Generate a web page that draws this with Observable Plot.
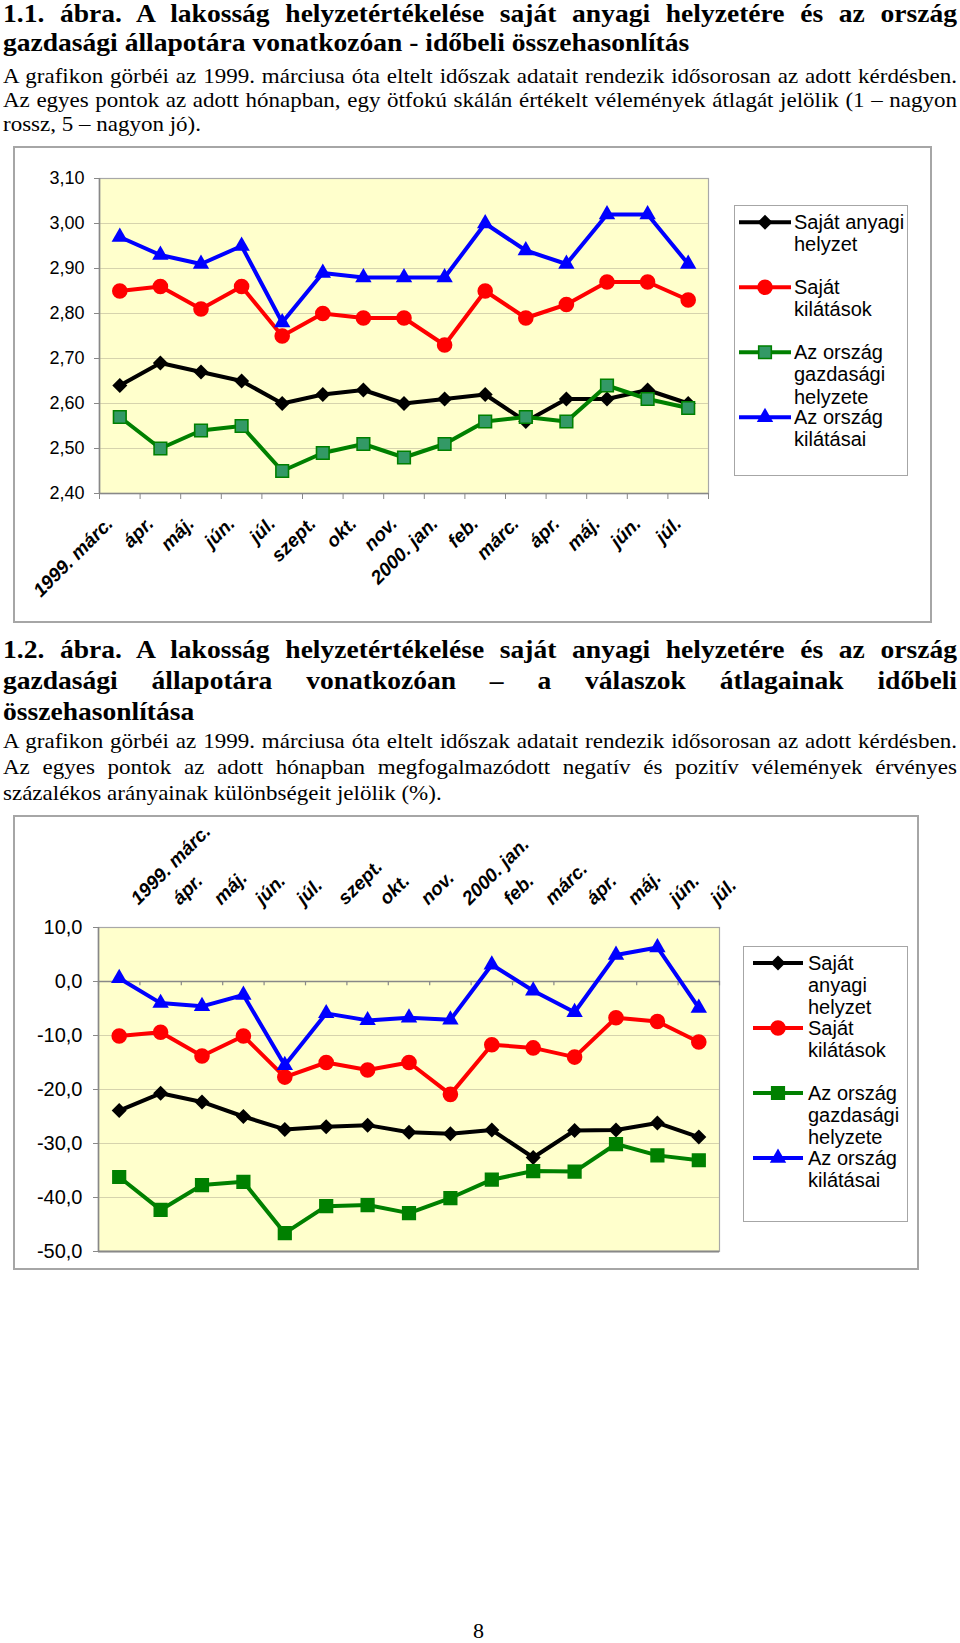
<!DOCTYPE html>
<html>
<head>
<meta charset="utf-8">
<script src="https://cdn.jsdelivr.net/npm/d3@7"></script>
<script src="https://cdn.jsdelivr.net/npm/@observablehq/plot@0.6"></script>
<style>
  body { margin: 0; background: #fff; }
  #page { position: relative; width: 960px; height: 1643px; overflow: hidden; background: #fff; }
  .ln { position: absolute; left: 3px; font-family: "Liberation Serif", "Times New Roman", serif; color: #000; white-space: nowrap; transform-origin: 0 0; }
  .ln.j { white-space: normal; text-align: justify; text-align-last: justify; }
  .title { font-weight: bold; font-size: 25.5px; line-height: 28px; }
  .body { font-size: 21px; line-height: 24px; }
  .frame { position: absolute; border: 2px solid #a6a6a6; box-sizing: border-box; pointer-events: none; }
  .chart { position: absolute; left: 0; }
  .legend { position: absolute; border: 1.5px solid #a6a6a6; box-sizing: border-box; background: #fff;
            font-family: "Liberation Sans", Arial, sans-serif; font-size: 20px; color: #000; }
  .entry { position: absolute; left: 0; }
  .entry svg { position: absolute; left: 0; top: 0; }
  .entry .lbl { position: absolute; white-space: nowrap; }
  .pnum { position: absolute; font-family: "Liberation Serif", "Times New Roman", serif; font-size: 22px; }
</style>
</head>
<body>
<div id="page"></div>
<script>
// ---------------- data ----------------
const categories = ["1999. márc.", "ápr.", "máj.", "jún.", "júl.", "szept.", "okt.", "nov.",
                    "2000. jan.", "feb.", "márc.", "ápr.", "máj.", "jún.", "júl."];
const seriesNames = ["Saját anyagi helyzet", "Saját kilátások", "Az ország gazdasági helyzete", "Az ország kilátásai"];
const seriesColors = ["#000000", "#ff0000", "#008000", "#0000ff"];

// 1.1. ábra – átlagok (1–5 skála)
const atlagSajatAnyagi  = [2.64, 2.69, 2.67, 2.65, 2.60, 2.62, 2.63, 2.60, 2.61, 2.62, 2.56, 2.61, 2.61, 2.63, 2.60];
const atlagSajatKilatas = [2.85, 2.86, 2.81, 2.86, 2.75, 2.80, 2.79, 2.79, 2.73, 2.85, 2.79, 2.82, 2.87, 2.87, 2.83];
const atlagOrszagHelyzet = [2.57, 2.50, 2.54, 2.55, 2.45, 2.49, 2.51, 2.48, 2.51, 2.56, 2.57, 2.56, 2.64, 2.61, 2.59];
const atlagOrszagKilatas = [2.97, 2.93, 2.91, 2.95, 2.78, 2.89, 2.88, 2.88, 2.88, 3.00, 2.94, 2.91, 3.02, 3.02, 2.91];
const yTicks1 = [2.4, 2.5, 2.6, 2.7, 2.8, 2.9, 3.0, 3.1];

// 1.2. ábra – negatív és pozitív vélemények különbsége (%)
const kulSajatAnyagi  = [-23.9, -20.7, -22.3, -25.0, -27.4, -26.9, -26.6, -27.9, -28.2, -27.5, -32.6, -27.6, -27.5, -26.2, -28.8];
const kulSajatKilatas = [-10.1, -9.4, -13.8, -10.1, -17.7, -15.0, -16.4, -15.0, -20.9, -11.7, -12.3, -14.0, -6.7, -7.4, -11.2];
const kulOrszagHelyzet = [-36.2, -42.3, -37.7, -37.1, -46.6, -41.6, -41.4, -42.9, -40.1, -36.7, -35.1, -35.2, -30.1, -32.2, -33.1];
const kulOrszagKilatas = [0.6, -4.0, -4.6, -2.5, -15.5, -5.9, -7.2, -6.7, -7.1, 3.1, -1.7, -5.7, 4.9, 6.3, -4.9];
const yTicks2 = [-50, -40, -30, -20, -10, 0, 10];

// ---------------- symbols ----------------
const rOf = s => Math.sqrt(s / Math.PI);
const symDiamond = {draw(c, s) { const r = rOf(s); c.moveTo(0, -r); c.lineTo(r, 0); c.lineTo(0, r); c.lineTo(-r, 0); c.closePath(); }};
const symSquare = {draw(c, s) { const r = rOf(s); c.moveTo(-r, -r); c.lineTo(r, -r); c.lineTo(r, r); c.lineTo(-r, r); c.closePath(); }};
const symCircle = {draw(c, s) { const r = rOf(s); c.moveTo(r, 0); c.arc(0, 0, r, 0, 2 * Math.PI); c.closePath(); }};
const symTriangle = {draw(c, s) { const r = rOf(s); const h = r * Math.sqrt(3); c.moveTo(0, -h * 2 / 3); c.lineTo(r, h / 3); c.lineTo(-r, h / 3); c.closePath(); }};

const idx = d3.range(categories.length);
const bounds = d3.range(categories.length + 1).map(i => i - 0.5);
const page = document.getElementById("page");

// ---------------- text helpers ----------------
function addLine(text, cls, centerY, justify, lineH, sx) {
  const d = document.createElement("div");
  d.className = "ln " + cls + (justify ? " j" : "");
  d.textContent = text;
  d.style.top = Math.max(0, centerY - lineH / 2) + "px";
  d.style.width = (954 / sx) + "px";
  d.style.transform = `scaleX(${sx})`;
  page.appendChild(d);
}
const T = (t, y, j) => addLine(t, "title", y, j, 28, 1.08);
const B = (t, y, j) => addLine(t, "body", y, j, 24, 1.095);

T("1.1. ábra. A lakosság helyzetértékelése saját anyagi helyzetére és az ország", 14, true);
T("gazdasági állapotára vonatkozóan - időbeli összehasonlítás", 43, false);
B("A grafikon görbéi az 1999. márciusa óta eltelt időszak adatait rendezik idősorosan az adott kérdésben.", 76, true);
B("Az egyes pontok az adott hónapban, egy ötfokú skálán értékelt vélemények átlagát jelölik (1 – nagyon", 100, true);
B("rossz, 5 – nagyon jó).", 124, false);

T("1.2. ábra. A lakosság helyzetértékelése saját anyagi helyzetére és az ország", 650, true);
T("gazdasági állapotára vonatkozóan – a válaszok átlagainak időbeli", 681, true);
T("összehasonlítása", 712, false);
B("A grafikon görbéi az 1999. márciusa óta eltelt időszak adatait rendezik idősorosan az adott kérdésben.", 741, true);
B("Az egyes pontok az adott hónapban megfogalmazódott negatív és pozitív vélemények érvényes", 767, true);
B("százalékos arányainak különbségeit jelölik (%).", 793, false);

// ---------------- chart builder ----------------
function seriesMarks(values, k, squareFill) {
  const color = seriesColors[k];
  const opts = [
    {symbol: symDiamond, r: 7.5, fill: "#000000", stroke: "none"},
    {symbol: symCircle, r: 7.8, fill: "#ff0000", stroke: "none"},
    {symbol: symSquare, r: 6.3, fill: squareFill, stroke: "#008000", strokeWidth: 1.6},
    {symbol: symTriangle, r: 8.2, fill: "#0000ff", stroke: "none"}
  ][k];
  return [
    Plot.line(idx, {x: i => i, y: i => values[i], stroke: color, strokeWidth: 4, strokeLinejoin: "round"}),
    Plot.dot(idx, {x: i => i, y: i => values[i], ...opts})
  ];
}

function addFrame(left, top, width, height) {
  const f = document.createElement("div");
  f.className = "frame";
  Object.assign(f.style, {left: left + "px", top: top + "px", width: width + "px", height: height + "px"});
  page.appendChild(f);
}

function addLegend(box, lines, firstLine, entryGap, lineH, sw, squareFill) {
  const L = document.createElement("div");
  L.className = "legend";
  Object.assign(L.style, {left: box.left + "px", top: box.top + "px", width: box.width + "px", height: box.height + "px"});
  const styles = [
    {sym: symDiamond, r: 7.5, fill: "#000000", stroke: "none", sw: 0},
    {sym: symCircle, r: 7.8, fill: "#ff0000", stroke: "none", sw: 0},
    {sym: symSquare, r: 6.3, fill: squareFill, stroke: "#008000", sw: 1.6},
    {sym: symTriangle, r: 8.2, fill: "#0000ff", stroke: "none", sw: 0}
  ];
  lines.forEach((txt, k) => {
    const e = document.createElement("div");
    e.className = "entry";
    const top = firstLine - lineH / 2 + k * entryGap;
    e.style.top = top + "px";
    const st = styles[k];
    const path = d3.symbol().type(st.sym).size(Math.PI * st.r * st.r)();
    const svg = d3.create("svg").attr("width", box.width).attr("height", lineH);
    svg.append("line").attr("x1", sw.x1).attr("x2", sw.x2).attr("y1", lineH / 2).attr("y2", lineH / 2)
       .attr("stroke", seriesColors[k]).attr("stroke-width", 4);
    svg.append("path").attr("d", path).attr("transform", `translate(${(sw.x1 + sw.x2) / 2},${lineH / 2})`)
       .attr("fill", st.fill).attr("stroke", st.stroke).attr("stroke-width", st.sw);
    e.appendChild(svg.node());
    txt.forEach((t, j) => {
      const s = document.createElement("div");
      s.className = "lbl";
      s.textContent = t;
      s.style.left = sw.text + "px";
      s.style.top = (j * lineH) + "px";
      s.style.lineHeight = lineH + "px";
      e.appendChild(s);
    });
    L.appendChild(e);
  });
  page.appendChild(L);
}

// ---------------- chart 1 ----------------
{
  const top = 146, height = 477;
  const plot = Plot.plot({
    width: 960, height,
    marginLeft: 99, marginRight: 252, marginTop: 32, marginBottom: 130,
    x: {domain: [-0.5, 14.5]},
    y: {domain: [2.4, 3.1]},
    style: {background: "transparent", overflow: "visible", fontFamily: "'Liberation Sans', Arial, sans-serif", color: "#000"},
    marks: [
      Plot.frame({fill: "#ffffcc", stroke: "#a8a8a8", strokeWidth: 1.2}),
      Plot.gridY(yTicks1.slice(1, -1), {stroke: "#d6d3ad", strokeOpacity: 1, strokeWidth: 1}),
      Plot.ruleX([-0.5], {stroke: "#888888", strokeWidth: 1.6}),
      Plot.ruleY([2.4], {stroke: "#888888", strokeWidth: 1.6}),
      Plot.axisY({ticks: yTicks1, tickFormat: d => d.toFixed(2).replace(".", ","), tickSize: 5, tickPadding: 10,
                  fontSize: 18, stroke: "#888888", fill: "#000"}),
      Plot.axisX({ticks: bounds, tickFormat: () => "", tickSize: 6, stroke: "#888888"}),
      Plot.text(idx, {x: i => i, frameAnchor: "bottom", text: i => categories[i], rotate: -45,
                      textAnchor: "end", lineAnchor: "middle", dx: -10, dy: 27,
                      fontSize: 19, fontWeight: "bold", fontStyle: "italic", fill: "#000"}),
      ...seriesMarks(atlagSajatAnyagi, 0, "#339966"),
      ...seriesMarks(atlagSajatKilatas, 1, "#339966"),
      ...seriesMarks(atlagOrszagHelyzet, 2, "#339966"),
      ...seriesMarks(atlagOrszagKilatas, 3, "#339966")
    ]
  });
  plot.classList.add("chart");
  plot.style.top = top + "px";
  page.appendChild(plot);
  addFrame(13, top, 919, height);
  addLegend({left: 734, top: 205, width: 174, height: 271},
    [["Saját anyagi", "helyzet"], ["Saját", "kilátások"], ["Az ország", "gazdasági", "helyzete"], ["Az ország", "kilátásai"]],
    16, 65, 22.5, {x1: 4, x2: 56, text: 59}, "#339966");
}

// ---------------- chart 2 ----------------
{
  const top = 815, height = 455;
  const plot = Plot.plot({
    width: 960, height,
    marginLeft: 98, marginRight: 241, marginTop: 112, marginBottom: 19,
    x: {domain: [-0.5, 14.5], axis: null},
    y: {domain: [-50, 10]},
    style: {background: "transparent", overflow: "visible", fontFamily: "'Liberation Sans', Arial, sans-serif", color: "#000"},
    marks: [
      Plot.frame({fill: "#ffffcc", stroke: "#a8a8a8", strokeWidth: 1.2}),
      Plot.gridY(yTicks2.filter(d => d !== 0 && d !== -50 && d !== 10), {stroke: "#d6d3ad", strokeOpacity: 1, strokeWidth: 1}),
      Plot.ruleX([-0.5], {stroke: "#888888", strokeWidth: 1.6}),
      Plot.ruleY([-50], {stroke: "#888888", strokeWidth: 1.8}),
      Plot.ruleY([0], {stroke: "#888888", strokeWidth: 1.6}),
      Plot.ruleX(bounds, {x: d => d, y1: 0, y2: -0.8, stroke: "#888888", strokeWidth: 1.2}),
      Plot.axisY({ticks: yTicks2, tickFormat: d => d.toFixed(1).replace(".", ","), tickSize: 5, tickPadding: 11,
                  fontSize: 20, stroke: "#888888", fill: "#000"}),
      Plot.text(idx, {x: i => i, frameAnchor: "top", text: i => categories[i], rotate: -45,
                      textAnchor: "start", lineAnchor: "middle", dx: 15, dy: -26,
                      fontSize: 19, fontWeight: "bold", fontStyle: "italic", fill: "#000"}),
      ...seriesMarks(kulSajatAnyagi, 0, "#008000"),
      ...seriesMarks(kulSajatKilatas, 1, "#008000"),
      ...seriesMarks(kulOrszagHelyzet, 2, "#008000"),
      ...seriesMarks(kulOrszagKilatas, 3, "#008000")
    ]
  });
  plot.classList.add("chart");
  plot.style.top = top + "px";
  page.appendChild(plot);
  addFrame(13, top, 906, height);
  addLegend({left: 743, top: 946, width: 165, height: 276},
    [["Saját", "anyagi", "helyzet"], ["Saját", "kilátások"], ["Az ország", "gazdasági", "helyzete"], ["Az ország", "kilátásai"]],
    16, 65, 22, {x1: 9, x2: 59, text: 64}, "#008000");
}

// page number
{
  const p = document.createElement("div");
  p.className = "pnum";
  p.textContent = "8";
  p.style.left = "473px";
  p.style.top = "1618px";
  page.appendChild(p);
}
</script>
</body>
</html>
